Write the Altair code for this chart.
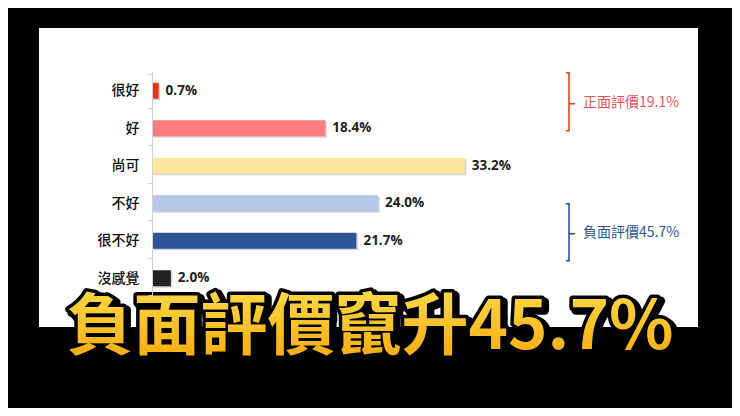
import altair as alt
import pandas as pd

categories = ["很好", "好", "尚可", "不好", "很不好", "沒感覺"]
values = [0.7, 18.4, 33.2, 24.0, 21.7, 2.0]
colors = ["#e8341c", "#ff7c80", "#ffe699", "#b4c7e7", "#2f5597", "#222222"]

groups = ["正面評價19.1%", "負面評價45.7%"]
group_start = ["很好", "不好"]
group_end = ["好", "很不好"]
group_colors = ["#e8431e", "#2f5597"]
group_text_colors = ["#e05a55", "#2f5597"]

headline = "負面評價竄升45.7%"

df = pd.DataFrame({"cat": categories, "value": values})
df["label"] = [f"{v:.1f}%" for v in values]

gdf = pd.DataFrame({"group": groups, "start": group_start, "end": group_end})

ysc = alt.Scale(domain=categories)
xsc = alt.Scale(domain=[0, 50], nice=False)
yaxis = alt.Axis(labelFont="Noto Sans CJK TC", labelFontSize=14, labelFontWeight=500,
                 labelColor="#111111", labelPadding=9, tickSize=4,
                 tickColor="#d0d0d0", domainColor="#d0d0d0",
                 tickBand="extent", labelAngle=0, zindex=1)


def Y(field):
    return alt.Y(field, type="nominal", sort=categories, scale=ysc, title=None, axis=yaxis)


base = alt.Chart(df)

panel = base.mark_rect(color="white").encode(
    x=alt.value(-113), x2=alt.value(546), y=alt.value(-44), y2=alt.value(255)
)

shadow = base.mark_bar(size=16, color="#a0a0a0", opacity=0.45, xOffset=1.5, yOffset=1.5).encode(
    x=alt.X("value:Q", scale=xsc, axis=None), y=Y("cat")
)

bars = base.mark_bar(size=16).encode(
    x=alt.X("value:Q", scale=xsc, axis=None),
    y=Y("cat"),
    color=alt.Color("cat:N", scale=alt.Scale(domain=categories, range=colors), legend=None),
)

labels = base.mark_text(align="left", baseline="middle", dx=7, font="Open Sans",
                        fontWeight="bold", fontSize=13.5, color="#222222").encode(
    x=alt.X("value:Q", scale=xsc, axis=None), y=Y("cat"), text="label:N"
)


def bracket(i, off_top, off_bot, off_mid):
    g = alt.Chart(gdf.iloc[[i]])
    col = group_colors[i]
    vline = g.mark_rule(color=col, strokeWidth=1.6, yOffset=off_top, y2Offset=off_bot).encode(
        x=alt.value(417), y=Y("start"), y2="end:N"
    )
    top = g.mark_rule(color=col, strokeWidth=1.6, yOffset=off_top).encode(
        x=alt.value(414), x2=alt.value(417.8), y=Y("start")
    )
    bot = g.mark_rule(color=col, strokeWidth=1.6, yOffset=off_bot).encode(
        x=alt.value(414), x2=alt.value(417.8), y=Y("end")
    )
    mid = g.mark_rule(color=col, strokeWidth=1.6, yOffset=off_mid).encode(
        x=alt.value(417), x2=alt.value(423), y=Y("start")
    )
    txt = g.mark_text(align="left", baseline="middle", font="Noto Sans CJK TC",
                      fontSize=14, color=group_text_colors[i], yOffset=off_mid - 1).encode(
        x=alt.value(431), y=Y("start"), text="group:N"
    )
    return vline + top + bot + mid + txt


b1 = bracket(0, -18, 2.5, 13)
b2 = bracket(1, 0.5, 20, 30.5)

hdf = pd.DataFrame({"t": [headline]})
hx, hy = 218, 257
hfs = 67
hl_shadow = alt.Chart(hdf).mark_text(
    font="Noto Sans CJK TC", fontWeight="bold", fontSize=hfs, align="center", baseline="middle",
    color="#000000", stroke="#000000", strokeWidth=9, strokeJoin="round", dx=3, dy=3
).encode(x=alt.value(hx), y=alt.value(hy), text="t:N")
hl_outline = alt.Chart(hdf).mark_text(
    font="Noto Sans CJK TC", fontWeight="bold", fontSize=hfs, align="center", baseline="middle",
    color="#000000", stroke="#000000", strokeWidth=7, strokeJoin="round"
).encode(x=alt.value(hx), y=alt.value(hy), text="t:N")
hl = alt.Chart(hdf).mark_text(
    font="Noto Sans CJK TC", fontWeight="bold", fontSize=hfs, align="center", baseline="middle",
    fill=alt.Gradient(gradient="linear", x1=0, x2=0, y1=0, y2=1,
                      stops=[alt.GradientStop(color="#ffe453", offset=0),
                             alt.GradientStop(color="#f5a60a", offset=1)])
).encode(x=alt.value(hx), y=alt.value(hy), text="t:N")

chart = alt.layer(panel, shadow, bars, labels, b1, b2, hl_shadow, hl_outline, hl).properties(
    width=471, height=225,
    padding={"left": 144, "top": 64, "right": 109, "bottom": 111},
    autosize=alt.AutoSizeParams(type="none"),
    background="#000000",
).configure_view(stroke=None)

chart.save("out.html", embed_options={"renderer": "svg", "actions": False})
